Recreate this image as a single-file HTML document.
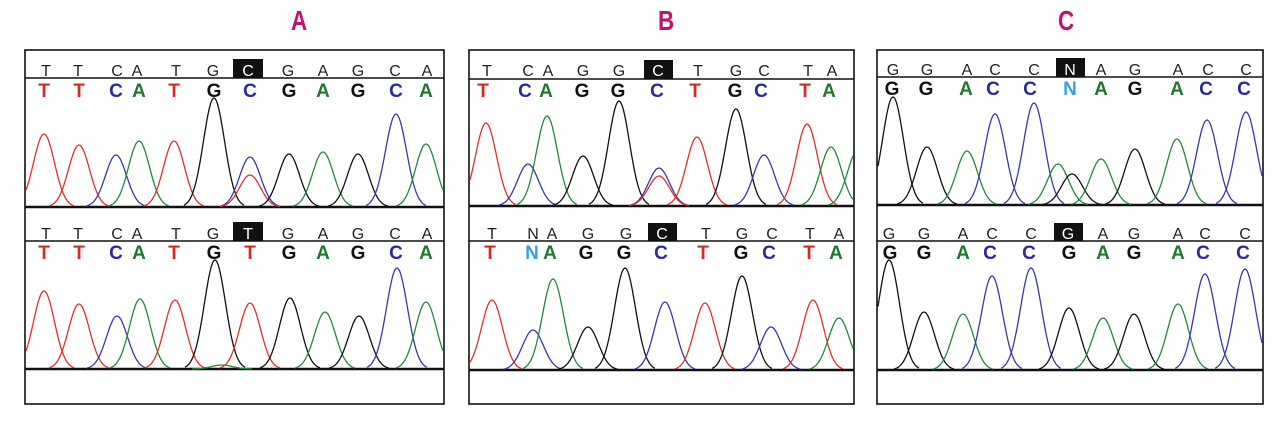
<!DOCTYPE html>
<html><head><meta charset="utf-8"><style>
body{margin:0;background:#fff;width:1280px;height:422px;overflow:hidden;position:relative;font-family:"Liberation Sans",sans-serif}
.t{position:absolute;top:5px;font:bold 28px "Liberation Sans",sans-serif;color:#c4116e;transform:scaleX(.8)}
svg{position:absolute;left:0;top:0}
</style></head><body>
<div class="t" style="left:289px">A</div>
<div class="t" style="left:656px">B</div>
<div class="t" style="left:1056px">C</div>
<svg id="s" width="1280" height="422" xmlns="http://www.w3.org/2000/svg" font-family="Liberation Sans, sans-serif">
<g fill="none" stroke="#111" stroke-width="1.6">
<rect x="25" y="50" width="419" height="354"/>
<rect x="469" y="50" width="385" height="354"/>
<rect x="877" y="50" width="386" height="354"/>
</g>
<g stroke="#111" stroke-width="1.5">
<line x1="25" y1="78" x2="444" y2="78"/><line x1="25" y1="241" x2="444" y2="241"/>
<line x1="469" y1="79" x2="854" y2="79"/><line x1="469" y1="241" x2="854" y2="241"/>
<line x1="877" y1="77" x2="1263" y2="77"/><line x1="877" y1="241" x2="1263" y2="241"/>
</g>
<g stroke="#111" stroke-width="2.5">
<line x1="25" y1="207" x2="444" y2="207"/><line x1="25" y1="369" x2="444" y2="369"/>
<line x1="469" y1="206" x2="854" y2="206"/><line x1="469" y1="370" x2="854" y2="370"/>
<line x1="877" y1="205" x2="1263" y2="205"/><line x1="877" y1="370" x2="1263" y2="370"/>
</g>
<rect x="233" y="59" width="30" height="19" fill="#111"/>
<rect x="233" y="222" width="30" height="19" fill="#111"/>
<rect x="644" y="60" width="29" height="19" fill="#111"/>
<rect x="648" y="223" width="29" height="18" fill="#111"/>
<rect x="1056" y="58" width="29" height="19" fill="#111"/>
<rect x="1054" y="223" width="29" height="18" fill="#111"/>
<g font-size="16" text-anchor="middle" fill="#222">
<text x="46" y="76">T</text><text x="78" y="76">T</text><text x="117" y="76">C</text><text x="137" y="76">A</text><text x="176" y="76">T</text><text x="213" y="76">G</text><text x="248" y="76" fill="#fff">C</text><text x="288" y="76">G</text><text x="323" y="76">A</text><text x="358" y="76">G</text><text x="395" y="76">C</text><text x="427" y="76">A</text>
<text x="46" y="239">T</text><text x="78" y="239">T</text><text x="117" y="239">C</text><text x="137" y="239">A</text><text x="176" y="239">T</text><text x="213" y="239">G</text><text x="248" y="239" fill="#fff">T</text><text x="288" y="239">G</text><text x="323" y="239">A</text><text x="358" y="239">G</text><text x="395" y="239">C</text><text x="427" y="239">A</text>
<text x="487" y="76">T</text><text x="528" y="76">C</text><text x="548" y="76">A</text><text x="583" y="76">G</text><text x="619" y="76">G</text><text x="658" y="76" fill="#fff">C</text><text x="698" y="76">T</text><text x="736" y="76">G</text><text x="764" y="76">C</text><text x="808" y="76">T</text><text x="832" y="76">A</text>
<text x="492" y="239">T</text><text x="533" y="239">N</text><text x="552" y="239">A</text><text x="588" y="239">G</text><text x="626" y="239">G</text><text x="662" y="239" fill="#fff">C</text><text x="706" y="239">T</text><text x="742" y="239">G</text><text x="772" y="239">C</text><text x="810" y="239">T</text><text x="839" y="239">A</text>
<text x="893" y="75">G</text><text x="927" y="75">G</text><text x="967" y="75">A</text><text x="995" y="75">C</text><text x="1034" y="75">C</text><text x="1070" y="75" fill="#fff">N</text><text x="1101" y="75">A</text><text x="1135" y="75">G</text><text x="1178" y="75">A</text><text x="1208" y="75">C</text><text x="1246" y="75">C</text>
<text x="889" y="239">G</text><text x="924" y="239">G</text><text x="963" y="239">A</text><text x="992" y="239">C</text><text x="1031" y="239">C</text><text x="1068" y="239" fill="#fff">G</text><text x="1103" y="239">A</text><text x="1134" y="239">G</text><text x="1178" y="239">A</text><text x="1205" y="239">C</text><text x="1245" y="239">C</text>
</g>
<g font-size="19" font-weight="bold" text-anchor="middle">
<text x="44" y="97" fill="#d82820">T</text><text x="79" y="97" fill="#d82820">T</text><text x="116" y="97" fill="#2a2aa0">C</text><text x="139" y="97" fill="#1e7a2e">A</text><text x="174" y="97" fill="#d82820">T</text><text x="214" y="97" fill="#111">G</text><text x="250" y="97" fill="#2a2aa0">C</text><text x="289" y="97" fill="#111">G</text><text x="323" y="97" fill="#1e7a2e">A</text><text x="358" y="97" fill="#111">G</text><text x="396" y="97" fill="#2a2aa0">C</text><text x="426" y="97" fill="#1e7a2e">A</text>
<text x="44" y="259" fill="#d82820">T</text><text x="79" y="259" fill="#d82820">T</text><text x="116" y="259" fill="#2a2aa0">C</text><text x="139" y="259" fill="#1e7a2e">A</text><text x="174" y="259" fill="#d82820">T</text><text x="214" y="259" fill="#111">G</text><text x="250" y="259" fill="#d82820">T</text><text x="289" y="259" fill="#111">G</text><text x="323" y="259" fill="#1e7a2e">A</text><text x="358" y="259" fill="#111">G</text><text x="396" y="259" fill="#2a2aa0">C</text><text x="426" y="259" fill="#1e7a2e">A</text>
<text x="483" y="97" fill="#d82820">T</text><text x="525" y="97" fill="#2a2aa0">C</text><text x="546" y="97" fill="#1e7a2e">A</text><text x="582" y="97" fill="#111">G</text><text x="618" y="97" fill="#111">G</text><text x="657" y="97" fill="#2a2aa0">C</text><text x="695" y="97" fill="#d82820">T</text><text x="735" y="97" fill="#111">G</text><text x="761" y="97" fill="#2a2aa0">C</text><text x="805" y="97" fill="#d82820">T</text><text x="829" y="97" fill="#1e7a2e">A</text>
<text x="490" y="259" fill="#d82820">T</text><text x="532" y="259" fill="#3a9ee0">N</text><text x="550" y="259" fill="#1e7a2e">A</text><text x="586" y="259" fill="#111">G</text><text x="624" y="259" fill="#111">G</text><text x="661" y="259" fill="#2a2aa0">C</text><text x="703" y="259" fill="#d82820">T</text><text x="741" y="259" fill="#111">G</text><text x="769" y="259" fill="#2a2aa0">C</text><text x="809" y="259" fill="#d82820">T</text><text x="836" y="259" fill="#1e7a2e">A</text>
<text x="892" y="95" fill="#111">G</text><text x="926" y="95" fill="#111">G</text><text x="966" y="95" fill="#1e7a2e">A</text><text x="993" y="95" fill="#2a2aa0">C</text><text x="1030" y="95" fill="#2a2aa0">C</text><text x="1070" y="95" fill="#3a9ee0">N</text><text x="1101" y="95" fill="#1e7a2e">A</text><text x="1135" y="95" fill="#111">G</text><text x="1177" y="95" fill="#1e7a2e">A</text><text x="1206" y="95" fill="#2a2aa0">C</text><text x="1244" y="95" fill="#2a2aa0">C</text>
<text x="890" y="259" fill="#111">G</text><text x="924" y="259" fill="#111">G</text><text x="963" y="259" fill="#1e7a2e">A</text><text x="990" y="259" fill="#2a2aa0">C</text><text x="1029" y="259" fill="#2a2aa0">C</text><text x="1069" y="259" fill="#111">G</text><text x="1103" y="259" fill="#1e7a2e">A</text><text x="1134" y="259" fill="#111">G</text><text x="1178" y="259" fill="#1e7a2e">A</text><text x="1203" y="259" fill="#2a2aa0">C</text><text x="1243" y="259" fill="#2a2aa0">C</text>
</g>
<g id="p" fill="none" stroke-width="1.3"></g>
</svg>
<script>
var C={T:"#e0302a",C:"#3838b0",A:"#238a38",G:"#111"};
var g=document.getElementById("p"),out="";
function pk(x,top,base,c,l,r){var h=base-top,s=10.5,d="";for(var i=-30;i<=30;i++){var xx=x+i;if(l&&xx<l)continue;if(r&&xx>r)continue;var y=base-h*Math.exp(-i*i/(2*s*s));d+=(d?"L":"M")+xx.toFixed(1)+","+y.toFixed(1);}out+='<path d="'+d+'" stroke="'+C[c]+'"/>';}
function set(b,l,r,arr){arr.forEach(function(a){pk(a[0],a[1],b,a[2],l,r);});}
set(207,26,443,[[44,134,"T"],[79,145,"T"],[116,155,"C"],[139,141,"A"],[174,141,"T"],[214,98,"G"],[250,157,"C"],[250,175,"T"],[289,154,"G"],[323,152,"A"],[358,154,"G"],[396,114,"C"],[426,144,"A"]]);
set(369,26,443,[[44,291,"T"],[79,304,"T"],[117,316,"C"],[140,299,"A"],[175,300,"T"],[215,260,"G"],[222,365,"A"],[250,303,"T"],[290,298,"G"],[325,312,"A"],[359,316,"G"],[397,268,"C"],[426,302,"A"]]);
set(206,470,853,[[486,123,"T"],[528,164,"C"],[547,116,"A"],[583,156,"G"],[619,101,"G"],[659,168,"C"],[659,176,"T"],[697,137,"T"],[736,109,"G"],[764,155,"C"],[807,124,"T"],[831,147,"A"],[858,150,"A"]]);
set(370,470,853,[[492,300,"T"],[533,330,"C"],[553,279,"A"],[588,327,"G"],[625,268,"G"],[665,302,"C"],[705,303,"T"],[742,276,"G"],[771,327,"C"],[813,300,"T"],[839,318,"A"]]);
set(205,878,1262,[[893,97,"G"],[927,147,"G"],[967,151,"A"],[995,114,"C"],[1034,103,"C"],[1058,164,"A"],[1072,174,"G"],[1101,159,"A"],[1135,149,"G"],[1177,139,"A"],[1207,120,"C"],[1246,112,"C"]]);
set(370,878,1262,[[889,260,"G"],[924,312,"G"],[963,314,"A"],[992,276,"C"],[1031,268,"C"],[1069,308,"G"],[1103,318,"A"],[1134,314,"G"],[1178,304,"A"],[1205,274,"C"],[1245,269,"C"]]);
g.innerHTML=out;
</script>
</body></html>
